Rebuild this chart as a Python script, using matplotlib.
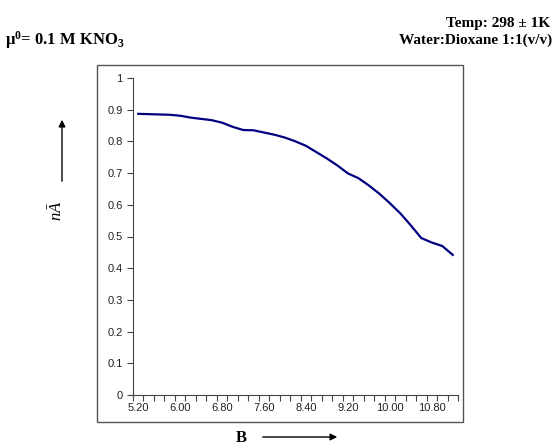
import matplotlib
matplotlib.use('Agg')
import matplotlib.pyplot as plt
from matplotlib.patches import Rectangle

# B values (category axis, step 0.2) and n-bar-A readings
b_values = [5.2 + 0.2 * i for i in range(31)]
nA_values = [0.887, 0.886, 0.885, 0.884, 0.881, 0.875, 0.871, 0.867,
             0.859, 0.846, 0.836, 0.835, 0.828, 0.821, 0.812, 0.800,
             0.786, 0.766, 0.746, 0.724, 0.699, 0.684, 0.661, 0.635,
             0.605, 0.573, 0.535, 0.495, 0.481, 0.470, 0.442]
y_ticks = [0, 0.1, 0.2, 0.3, 0.4, 0.5, 0.6, 0.7, 0.8, 0.9, 1]
y_tick_labels = ['0', '0.1', '0.2', '0.3', '0.4', '0.5', '0.6', '0.7', '0.8', '0.9', '1']

plt.rcParams['mathtext.fontset'] = 'custom'
plt.rcParams['mathtext.rm'] = 'Liberation Serif'
plt.rcParams['mathtext.it'] = 'Liberation Serif:italic'
plt.rcParams['mathtext.bf'] = 'Liberation Serif:bold'

W, H = 556, 447
fig = plt.figure(figsize=(W / 100, H / 100), dpi=100)

# outer chart border
fig.patches.append(Rectangle((97 / W, 1 - 422 / H), (463 - 97) / W, (422 - 65) / H,
                             transform=fig.transFigure, fill=False,
                             edgecolor='#555555', lw=1.0))

ax = fig.add_axes([133 / W, 52 / H, (458 - 133) / W, (395 - 78) / H])
idx = list(range(len(b_values)))
ax.plot(idx, nA_values, color='#000080', lw=1.6)

ax.set_ylim(0, 1)
ax.set_xlim(-0.5, len(b_values) - 0.5)
ax.set_yticks(y_ticks)
ax.set_yticklabels(y_tick_labels)
ax.set_xticks([i - 0.5 for i in range(len(b_values) + 1)])
ax.set_xticklabels([])
ax.set_xticks(idx[::4], minor=True)
ax.set_xticklabels([f'{b_values[i]:.2f}' for i in idx[::4]], minor=True)
ax.tick_params(axis='x', which='minor', length=0, pad=6)
ax.tick_params(axis='both', which='major', length=4, width=0.8, color='#444444')
for lab in ax.get_yticklabels() + ax.get_xticklabels(minor=True):
    lab.set_fontfamily('Liberation Sans')
    lab.set_fontsize(8)
    lab.set_color('#222222')
ax.spines['top'].set_visible(False)
ax.spines['right'].set_visible(False)
for s in ('left', 'bottom'):
    ax.spines[s].set_color('#444444')
    ax.spines[s].set_linewidth(0.8)

serif = dict(family='Liberation Serif', fontweight='bold', fontsize=11)
fig.text(550 / W, 1 - 27 / H, 'Temp: 298 \u00b1 1K', ha='right', va='baseline', **serif)
fig.text(552 / W, 1 - 44 / H, 'Water:Dioxane 1:1(v/v)', ha='right', va='baseline', **serif)
fig.text(5 / W, 1 - 45 / H, r'$\mathbf{\mu^{0}}$= 0.1 M KNO$_{\mathbf{3}}$',
         ha='left', va='baseline', fontsize=12, family='Liberation Serif',
         fontweight='bold')

# y label with arrow
fig.text(57 / W, 1 - 211 / H, r'$n\bar{A}$', rotation=90, ha='center', va='center',
         fontsize=12)
fig.add_artist(matplotlib.patches.FancyArrowPatch(
    (62 / W, 1 - 184 / H), (62 / W, 1 - 117 / H), transform=fig.transFigure,
    arrowstyle='-|>', mutation_scale=10, color='black', lw=1.0))

# x label with arrow
fig.text(241 / W, 1 - 438 / H, 'B', ha='center', va='center',
         family='Liberation Serif', fontweight='bold', fontsize=12)
fig.add_artist(matplotlib.patches.FancyArrowPatch(
    (260 / W, 1 - 437 / H), (340 / W, 1 - 437 / H), transform=fig.transFigure,
    arrowstyle='-|>', mutation_scale=10, color='black', lw=1.0))

fig.savefig('out.png', dpi=100)
